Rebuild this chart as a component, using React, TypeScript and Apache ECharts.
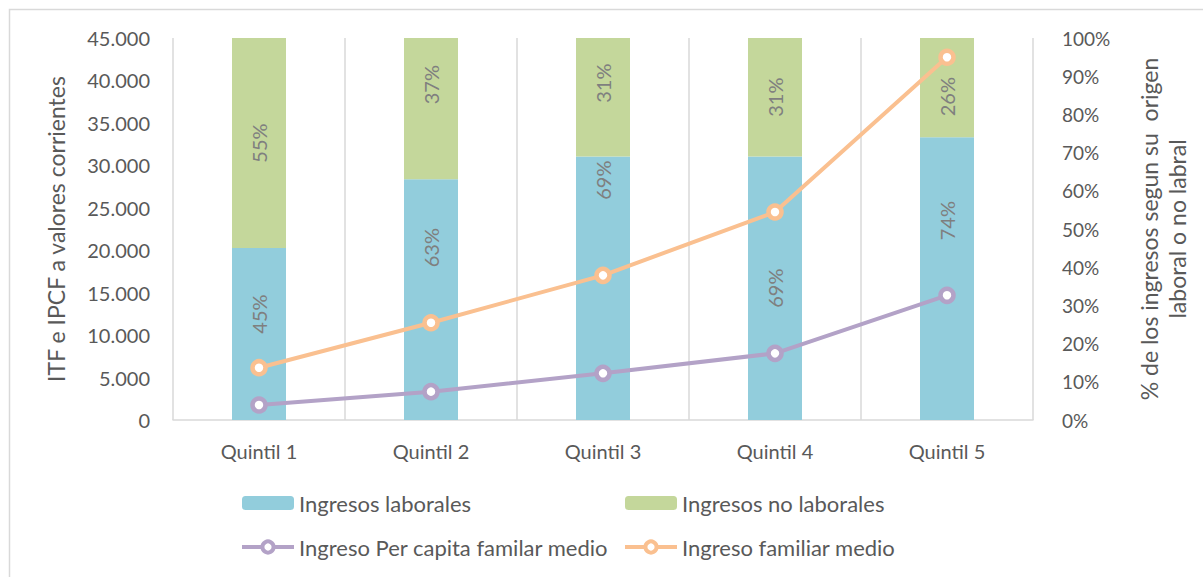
import React, { useEffect, useRef } from "react";
import * as echarts from "echarts";

const categories = ["Quintil 1", "Quintil 2", "Quintil 3", "Quintil 4", "Quintil 5"];
const laborales = [45, 63, 69, 69, 74];
const noLaborales = [55, 37, 31, 31, 26];
const perCapita = [1770, 3340, 5500, 7850, 14690];
const familiar = [6160, 11460, 17040, 24500, 42730];
const labOffsets = [-20, -52, -108, 0, -58];
const noLabOffsets = [0, -24, -14, 0, 9];

const FONT = "Lato";
const TXT = "#595959";
const PURPLE = "#B3A2C7";
const ORANGE = "#FAC090";

export default function App() {
  const ref = useRef<HTMLDivElement>(null);
  useEffect(() => {
    document.body.style.margin = "0";
    const chart = echarts.init(ref.current!, null, { renderer: "svg" });
    const barLabel = {
      show: true,
      rotate: 90,
      position: "inside",
      color: "#7f7f7f",
      fontSize: 20,
      fontFamily: FONT,
      formatter: (p: any) => p.value + "%",
    };
    const lineSeries = (name: string, data: number[], color: string) => ({
      name,
      type: "line",
      yAxisIndex: 0,
      data,
      symbol: "circle",
      symbolSize: 13,
      lineStyle: { color, width: 4 },
      itemStyle: { color: "#ffffff", borderColor: color, borderWidth: 4.5 },
      z: 5,
    });
    const legendText = { color: TXT, fontSize: 22, fontFamily: FONT };
    const lineLegendItem = (name: string, color: string) => ({
      name,
      itemStyle: { color: "#ffffff", borderColor: color, borderWidth: 4 },
      lineStyle: { color, width: 4 },
    });
    chart.setOption({
      animation: false,
      textStyle: { fontFamily: FONT },
      graphic: [
        {
          type: "rect",
          shape: { x: 9.5, y: 9.5, width: 1400, height: 800 },
          style: { fill: "none", stroke: "#d9d9d9", lineWidth: 1.5 },
          silent: true,
        },
      ],
      grid: { left: 173, right: 170, top: 38, bottom: 157, outerBoundsMode: "none", containLabel: false },
      legend: [
        {
          left: 240,
          top: 492,
          padding: 0,
          orient: "vertical",
          itemGap: 22,
          itemWidth: 52,
          itemHeight: 14,
          textStyle: legendText,
          data: ["Ingresos laborales", lineLegendItem("Ingreso Per capita familar medio", PURPLE)],
        },
        {
          left: 623,
          top: 492,
          padding: 0,
          orient: "vertical",
          itemGap: 22,
          itemWidth: 52,
          itemHeight: 14,
          textStyle: legendText,
          data: ["Ingresos no laborales", lineLegendItem("Ingreso familiar medio", ORANGE)],
        },
      ],
      xAxis: {
        type: "category",
        data: categories,
        axisLine: { lineStyle: { color: "#d9d9d9", width: 1.5 } },
        axisTick: { show: false },
        splitLine: { show: true, lineStyle: { color: "#d9d9d9", width: 1.5 } },
        axisLabel: { color: TXT, fontSize: 20, margin: 21, fontFamily: FONT },
      },
      yAxis: [
        {
          type: "value",
          min: 0,
          max: 45000,
          interval: 5000,
          name: "ITF e IPCF a valores corrientes",
          nameLocation: "middle",
          nameGap: 106,
          nameTextStyle: { color: TXT, fontSize: 23, fontFamily: FONT },
          axisLine: { show: false },
          axisTick: { show: false },
          splitLine: { show: false },
          axisLabel: {
            color: TXT,
            fontSize: 20,
            margin: 23,
            fontFamily: FONT,
            formatter: (v: number) => (v === 0 ? "0" : v.toLocaleString("de-DE")),
          },
        },
        {
          type: "value",
          min: 0,
          max: 100,
          interval: 10,
          position: "right",
          name: "% de los ingresos segun su  origen\nlaboral o no labral",
          nameLocation: "middle",
          nameGap: 102,
          nameRotate: 90,
          nameTextStyle: { color: TXT, fontSize: 23, fontFamily: FONT, lineHeight: 28, align: "center" },
          axisLine: { show: false },
          axisTick: { show: false },
          splitLine: { show: false },
          axisLabel: {
            color: TXT,
            fontSize: 19,
            margin: 29,
            fontFamily: FONT,
            formatter: (v: number) => v + "%",
          },
        },
      ],
      series: [
        {
          name: "Ingresos laborales",
          type: "bar",
          stack: "s",
          yAxisIndex: 1,
          barWidth: 54,
          itemStyle: { color: "#92CDDC" },
          label: barLabel,
          data: laborales.map((v, i) => ({ value: v, label: { offset: [-labOffsets[i], 0] } })),
        },
        {
          name: "Ingresos no laborales",
          type: "bar",
          stack: "s",
          yAxisIndex: 1,
          barWidth: 54,
          itemStyle: { color: "#C4D79B" },
          label: barLabel,
          data: noLaborales.map((v, i) => ({ value: v, label: { offset: [-noLabOffsets[i], 0] } })),
        },
        lineSeries("Ingreso Per capita familar medio", perCapita, PURPLE),
        lineSeries("Ingreso familiar medio", familiar, ORANGE),
      ],
    });
    return () => chart.dispose();
  }, []);
  return <div ref={ref} style={{ width: 1203, height: 577 }} />;
}
